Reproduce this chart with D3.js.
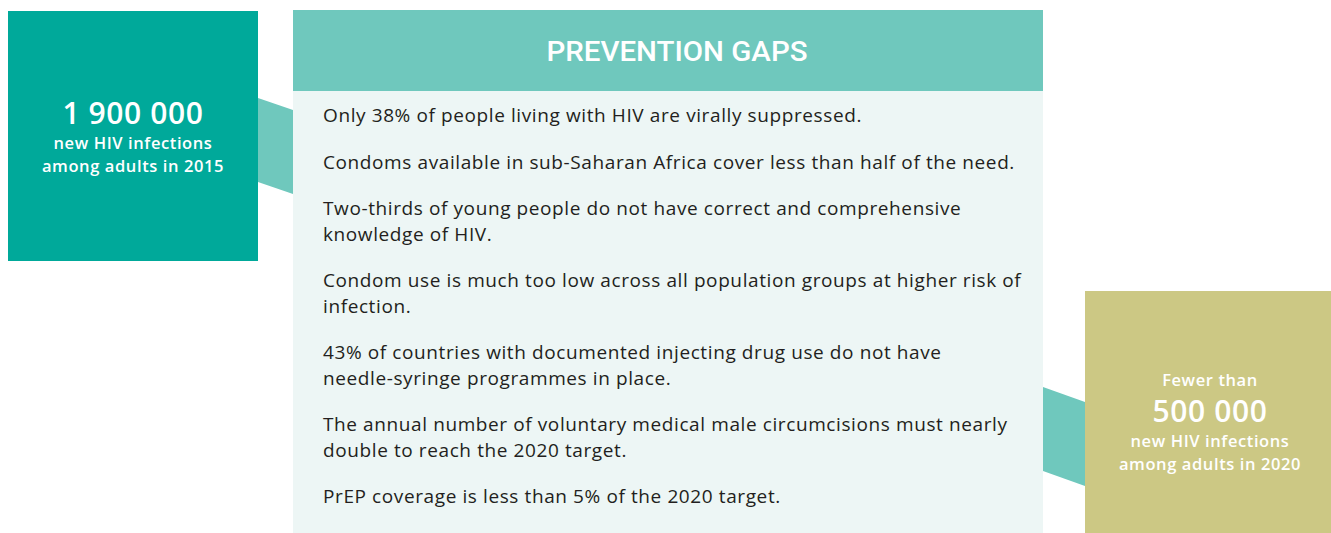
<!DOCTYPE html>
<html>
<head>
<meta charset="utf-8">
<script src="https://cdnjs.cloudflare.com/ajax/libs/d3/7.8.5/d3.min.js"></script>
<style>
  body { margin: 0; background: #fff; }
  svg { display: block; }
</style>
</head>
<body>
<div id="preventionGaps"></div>
<script>
// data
var panelTitle = "PREVENTION GAPS";
var gapItems = [
  ["Only 38% of people living with HIV are virally suppressed."],
  ["Condoms available in sub-Saharan Africa cover less than half of the need."],
  ["Two-thirds of young people do not have correct and comprehensive", "knowledge of HIV."],
  ["Condom use is much too low across all population groups at higher risk of", "infection."],
  ["43% of countries with documented injecting drug use do not have", "needle-syringe programmes in place."],
  ["The annual number of voluntary medical male circumcisions must nearly", "double to reach the 2020 target."],
  ["PrEP coverage is less than 5% of the 2020 target."]
];
var statPrefix = ["", "Fewer than"];
var statNumbers = ["1 900 000", "500 000"];
var statLabels = [["new HIV infections", "among adults in 2015"], ["new HIV infections", "among adults in 2020"]];

var W = 1331, H = 533;
var fontBody = "'Open Sans', 'Noto Sans', sans-serif";

var svg = d3.select("#preventionGaps").append("svg")
  .attr("width", W).attr("height", H);

// connectors (drawn under the boxes)
var connectors = [
  [[258, 98], [293, 110], [293, 194], [258, 182]],
  [[1043, 387], [1085, 402], [1085, 486], [1043, 471]]
];
svg.selectAll("path.connector")
  .data(connectors)
  .enter().append("path")
  .attr("class", "connector")
  .attr("d", function (d) { return d3.line()(d) + "Z"; })
  .attr("fill", "#6fc8bd");

// main panel
svg.append("rect")
  .attr("x", 293).attr("y", 91).attr("width", 750).attr("height", H - 91)
  .attr("fill", "#edf6f5");
svg.append("rect")
  .attr("x", 293).attr("y", 10).attr("width", 750).attr("height", 81)
  .attr("fill", "#6fc8bd");
svg.append("text")
  .attr("x", 677).attr("y", 61)
  .attr("text-anchor", "middle")
  .attr("fill", "#fff")
  .attr("font-family", "Roboto, sans-serif")
  .attr("font-weight", 500)
  .attr("font-size", 27)
  .attr("textLength", 261)
  .attr("lengthAdjust", "spacingAndGlyphs")
  .text(panelTitle);

// bullet list
var lineH = 25.5, itemGap = 46.5;
var y = 122;
var itemY = [];
gapItems.forEach(function (lines) {
  itemY.push(y);
  y += (lines.length - 1) * lineH + itemGap;
});

var items = svg.selectAll("g.gap")
  .data(gapItems)
  .enter().append("g")
  .attr("class", "gap")
  .attr("transform", function (d, i) { return "translate(323," + itemY[i] + ")"; });

items.selectAll("text")
  .data(function (d) { return d; })
  .enter().append("text")
  .attr("x", 0)
  .attr("y", function (d, i) { return i * lineH; })
  .attr("fill", "#231f20")
  .attr("font-family", fontBody)
  .attr("font-size", 19)
  .attr("letter-spacing", 0.6)
  .text(function (d) { return d; });

// stat boxes
var boxes = [
  { x: 8, y: 11, w: 250, h: 250, fill: "#00a99a", cx: 133, top: 124 },
  { x: 1085, y: 291, w: 246, h: 242, fill: "#ccc884", cx: 1210, top: 422 }
];

var statG = svg.selectAll("g.stat")
  .data(boxes)
  .enter().append("g")
  .attr("class", "stat");

statG.append("rect")
  .attr("x", function (d) { return d.x; })
  .attr("y", function (d) { return d.y; })
  .attr("width", function (d) { return d.w; })
  .attr("height", function (d) { return d.h; })
  .attr("fill", function (d) { return d.fill; });

statG.append("text")
  .attr("x", function (d) { return d.cx; })
  .attr("y", function (d) { return d.top - 36; })
  .attr("text-anchor", "middle")
  .attr("fill", "#fff")
  .attr("font-family", fontBody)
  .attr("font-weight", 600)
  .attr("font-size", 16.5)
  .attr("letter-spacing", 0.6)
  .text(function (d, i) { return statPrefix[i]; });

statG.append("text")
  .attr("x", function (d) { return d.cx; })
  .attr("y", function (d) { return d.top; })
  .attr("text-anchor", "middle")
  .attr("fill", "#fff")
  .attr("font-family", fontBody)
  .attr("font-weight", 600)
  .attr("font-size", 30)
  .attr("letter-spacing", 0.6)
  .text(function (d, i) { return statNumbers[i]; });

statG.each(function (d, i) {
  d3.select(this).selectAll("text.lbl")
    .data(statLabels[i])
    .enter().append("text")
    .attr("class", "lbl")
    .attr("x", d.cx)
    .attr("y", function (t, j) { return d.top + 25 + j * 22.5; })
    .attr("text-anchor", "middle")
    .attr("fill", "#fff")
    .attr("font-family", fontBody)
    .attr("font-weight", 600)
    .attr("font-size", 16.5)
    .attr("letter-spacing", 0.6)
    .text(function (t) { return t; });
});
</script>
</body>
</html>
